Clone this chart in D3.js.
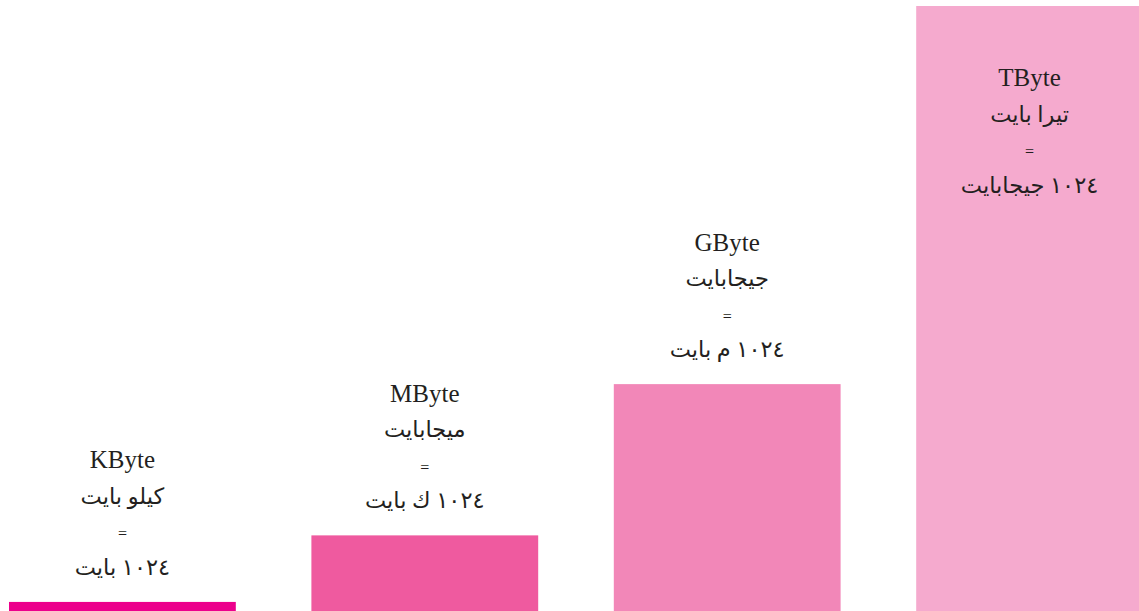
<!DOCTYPE html>
<html>
<head>
<meta charset="utf-8">
<script src="https://cdn.jsdelivr.net/npm/d3@7"></script>
<style>
    body { margin: 0; background: #fff; }
    svg { display: block; }
    .label text { font-family: "Liberation Serif", "DejaVu Serif", "DejaVu Sans", serif; font-size: 22.5px; fill: #231f20; }
    .label .latin { font-size: 25px; }
</style>
</head>
<body>
<div id="chart"></div>
<script>
/* Byte units chart */

const units = ["KByte", "MByte", "GByte", "TByte"];
const arabicNames = ["كيلو بايت", "ميجابايت", "جيجابايت", "تيرا بايت"];
const equalsTo = ["١٠٢٤ بايت", "١٠٢٤ ك بايت", "١٠٢٤ م بايت", "١٠٢٤ جيجابايت"];
const sizes = [1.5, 12.5, 37.5, 100];
const colors = ["#ec008c", "#ef5a9f", "#f287b8", "#f5aace"];

const width = 1139;
const height = 611;

const svg = d3.select("#chart").append("svg")
    .attr("width", width)
    .attr("height", height);

const x = d3.scaleBand()
    .domain(units)
    .range([9, 1143])
    .paddingInner(0.25)
    .paddingOuter(0);

const y = d3.scaleLinear()
    .domain([0, 100])
    .range([height, 6]);

const data = units.map((u, i) => ({
    unit: u,
    name: arabicNames[i],
    eq: equalsTo[i],
    size: sizes[i],
    color: colors[i]
}));

// BARS
svg.selectAll(".bar")
    .data(data)
    .enter()
    .append("rect")
    .attr("class", "bar")
    .attr("x", d => x(d.unit))
    .attr("y", d => y(d.size))
    .attr("width", x.bandwidth())
    .attr("height", d => height - y(d.size))
    .attr("fill", d => d.color);

// LABELS - above the bar, or inside it when there is no room
const lineGap = 35.5;

const labels = svg.selectAll(".label")
    .data(data)
    .enter()
    .append("g")
    .attr("class", "label")
    .attr("transform", d => {
        const top = y(d.size);
        const first = top - 27 - 3 * lineGap < 20 ? top + 80 : top - 27 - 3 * lineGap;
        return `translate(${x(d.unit) + x.bandwidth() / 2},${first})`;
    });

labels.append("text")
    .attr("class", "latin")
    .attr("text-anchor", "middle")
    .text(d => d.unit);

labels.append("text")
    .attr("y", lineGap)
    .attr("text-anchor", "middle")
    .attr("direction", "rtl")
    .text(d => d.name);

labels.append("text")
    .attr("y", lineGap * 2)
    .attr("text-anchor", "middle")
    .style("font-size", "16px")
    .text("=");

labels.append("text")
    .attr("y", lineGap * 3)
    .attr("text-anchor", "middle")
    .attr("direction", "rtl")
    .text(d => d.eq);
</script>
</body>
</html>
